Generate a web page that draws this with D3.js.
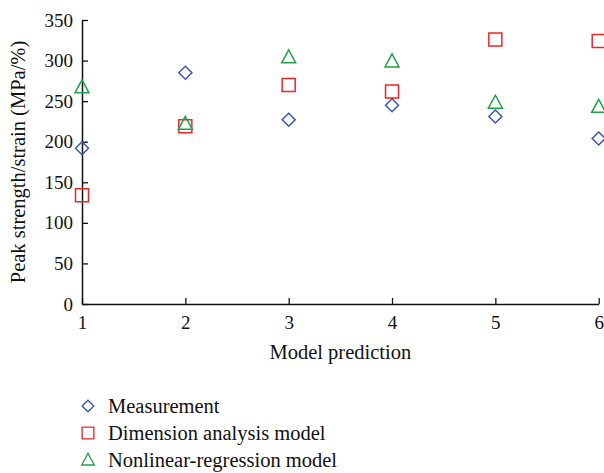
<!DOCTYPE html>
<html>
<head>
<meta charset="utf-8">
<script src="https://cdn.jsdelivr.net/npm/d3@7/dist/d3.min.js"></script>
<style>
  body { margin: 0; background: #fff; }
  svg { display: block; }
  text { font-family: "Liberation Serif", "Times New Roman", serif; fill: #111; }
</style>
</head>
<body>
<svg id="chart" width="604" height="473"></svg>
<script>
// Model prediction cases
const cases = [1, 2, 3, 4, 5, 6];
// Peak strength/strain (MPa/%)
const measurement = [192, 285, 227, 245, 231, 204];
const dimensionAnalysis = [134, 219, 270, 262, 326, 324];
const nonlinearRegression = [267, 222, 304, 299, 248, 243];
const xTicks = [1, 2, 3, 4, 5, 6];
const yTicks = [0, 50, 100, 150, 200, 250, 300, 350];

const series = [
  { name: "Measurement", values: measurement, symbol: "diamond", color: "#3a55b4" },
  { name: "Dimension analysis model", values: dimensionAnalysis, symbol: "square", color: "#e8262a" },
  { name: "Nonlinear-regression model", values: nonlinearRegression, symbol: "triangle", color: "#22a24a" }
];

const svg = d3.select("#chart");
const margin = { left: 82, right: 5.3, top: 20, bottom: 169 };
const W = 604, H = 473;

const x = d3.scaleLinear().domain([1, 6]).range([margin.left, W - margin.right]);
const y = d3.scaleLinear().domain([0, 350]).range([H - margin.bottom, margin.top]);

// marker shapes drawn as paths centred on (0,0)
function markerPath(kind) {
  if (kind === "diamond") return "M0,-6.5L6.5,0L0,6.5L-6.5,0Z";
  if (kind === "square") return "M-6.5,-6.5H6.5V6.5H-6.5Z";
  return "M0,-7.5L7,5.5H-7Z";
}

// axes with inward ticks
const xAxis = d3.axisBottom(x).tickValues(xTicks).tickFormat(d3.format("d")).tickSize(-6).tickSizeOuter(0);
const yAxis = d3.axisLeft(y).tickValues(yTicks).tickSize(-6).tickSizeOuter(0);

const gx = svg.append("g").attr("transform", `translate(0,${y(0)})`).call(xAxis);
const gy = svg.append("g").attr("transform", `translate(${x(1)},0)`).call(yAxis);

[gx, gy].forEach(g => {
  g.select(".domain").attr("stroke", "#111").attr("stroke-width", 1.5);
  g.selectAll(".tick line").attr("stroke", "#111").attr("stroke-width", 1.3);
  g.selectAll(".tick text").attr("font-size", 19).attr("font-family", "Liberation Serif, serif").attr("fill", "#111");
});
gx.selectAll(".tick text").attr("dy", "0").attr("y", 25);
gy.selectAll(".tick text").attr("x", -9).attr("dy", "0.32em");

// axis titles
svg.append("text")
  .attr("x", (x(1) + x(6)) / 2).attr("y", 359)
  .attr("text-anchor", "middle").attr("font-size", 20.5)
  .text("Model prediction");

svg.append("text")
  .attr("transform", `translate(25,${(y(0) + y(350)) / 2}) rotate(-90)`)
  .attr("text-anchor", "middle").attr("font-size", 20.5)
  .text("Peak strength/strain (MPa/%)");

// data markers
series.forEach(s => {
  svg.append("g").selectAll("path")
    .data(cases.map((c, i) => ({ c, v: s.values[i] })))
    .join("path")
    .attr("d", markerPath(s.symbol))
    .attr("transform", d => `translate(${x(d.c)},${y(d.v)})`)
    .attr("fill", "none")
    .attr("stroke", s.color)
    .attr("stroke-width", 1.5);
});

// legend
const legend = svg.append("g");
series.forEach((s, i) => {
  const ly = 406 + i * 27;
  legend.append("path")
    .attr("d", markerPath(s.symbol))
    .attr("transform", `translate(88,${ly}) scale(0.9)`)
    .attr("fill", "none").attr("stroke", s.color).attr("stroke-width", 1.5);
  legend.append("text")
    .attr("x", 108).attr("y", ly).attr("dy", "0.35em")
    .attr("font-size", 20.5)
    .text(s.name);
});
</script>
</body>
</html>
